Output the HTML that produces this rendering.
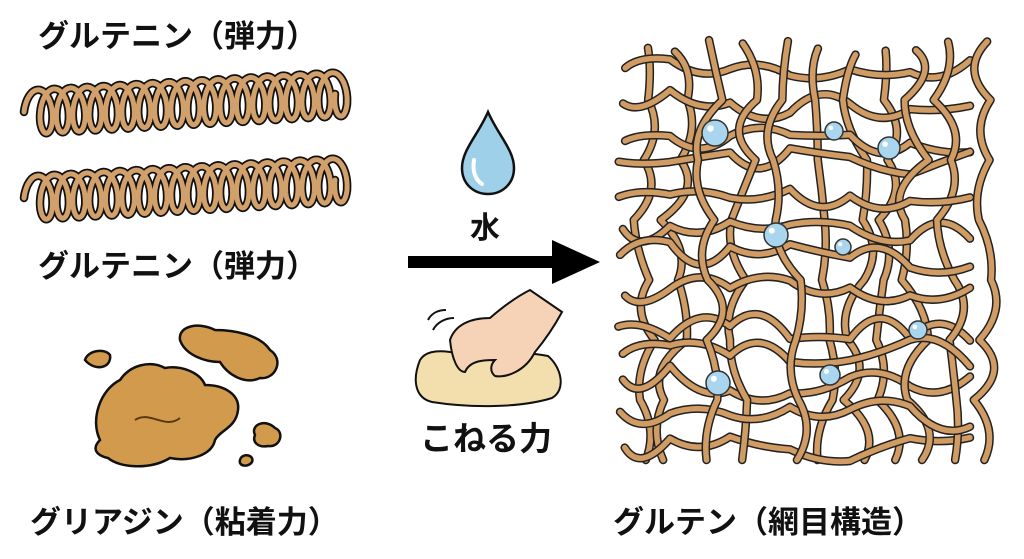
<!DOCTYPE html><html><head><meta charset="utf-8"><style>
body{margin:0;background:#fff;width:1024px;height:559px;overflow:hidden}
svg{display:block}
text{font-family:"Liberation Sans","Noto Sans CJK JP",sans-serif;font-weight:bold;fill:#111}
</style></head><body>
<svg id="s" width="1024" height="559" viewBox="0 0 1024 559">
<text x="38" y="47" font-size="31">グルテニン（弾力）</text>
<text x="38" y="277" font-size="31">グルテニン（弾力）</text>
<text x="30" y="533" font-size="31">グリアジン（粘着力）</text>
<text x="613" y="533" font-size="31">グルテン（網目構造）</text>
<text x="470" y="238" font-size="30">水</text>
<text x="420" y="450" font-size="33">こねる力</text>
<g id="springs"></g>
<path d="M488 112 C478 135 462 150 462 168 C462 184 474 194 488 194 C502 194 514 184 514 168 C514 150 498 135 488 112Z" fill="#9fd0ea" stroke="#111" stroke-width="2.5"/>
<path d="M474 160 C472 172 476 180 482 184" stroke="#fff" stroke-width="4" fill="none" stroke-linecap="round"/>
<rect x="408" y="256" width="150" height="12" fill="#000"/>
<path d="M552 240 L600 262 L552 284Z" fill="#000"/>
<path d="M420 360 C412 380 415 398 432 402 C470 408 520 408 552 398 C566 390 562 368 548 356 C520 350 480 355 450 352 C435 350 425 352 420 360Z" fill="#f3dfae" stroke="#111" stroke-width="2"/>
<path d="M450 340 C455 325 470 318 490 318 C505 305 520 295 530 290 L562 312 C555 325 545 340 535 352 C525 372 505 378 495 376 C490 372 490 365 495 360 C485 360 470 360 465 372 C458 372 452 360 450 340Z" fill="#f6d3b6" stroke="#111" stroke-width="2"/>
<path d="M428 320 C432 312 440 310 446 310 M433 330 C437 322 446 318 454 318" stroke="#111" stroke-width="2" fill="none"/>
<g fill="#d29a4c" stroke="#111" stroke-width="2.5">
<path d="M100 440 C90 420 100 390 120 380 C130 365 150 360 165 368 C180 365 200 372 205 385 C225 385 240 395 238 410 C236 428 220 430 215 440 C212 455 190 462 170 458 C150 470 120 468 108 458 C95 455 92 448 100 440Z"/>
<path d="M180 340 C178 325 200 322 215 330 C235 330 260 335 270 350 C285 360 275 380 260 378 C245 385 228 375 220 362 C205 362 185 355 180 340Z"/>
<path d="M85 360 C88 350 105 348 110 355 C112 368 95 372 85 360Z"/>
<path d="M255 435 C250 425 265 418 275 428 C285 432 280 448 268 446 C258 448 252 442 255 435Z"/>
<path d="M240 460 C242 452 255 455 252 462 C248 468 238 466 240 460Z"/>
</g>
<path d="M135 420 C150 410 165 430 180 418" stroke="#5a3810" stroke-width="2" fill="none"/>
<g id="net"></g>
<g id="bub" fill="#a9d6ee" stroke="#333" stroke-width="1.5"></g>
</svg>
<script>
var NS="http://www.w3.org/2000/svg";
function p(parent,d,c,w){var e=document.createElementNS(NS,"path");e.setAttribute("d",d);e.setAttribute("fill","none");e.setAttribute("stroke",c);e.setAttribute("stroke-width",w);e.setAttribute("stroke-linecap","round");e.setAttribute("stroke-linejoin","round");parent.appendChild(e);}
function spring(x0,y0,x1,y1){var d="";var n=19,N=n*40;for(var i=0;i<=N;i++){var t=i/N,a=t*n*2*Math.PI+Math.PI;var x=x0+(x1-x0)*t+10*Math.cos(a),y=y0+(y1-y0)*t+22*Math.sin(a);d+=(i?"L":"M")+x.toFixed(1)+" "+y.toFixed(1);}var g=document.getElementById("springs");p(g,d,"#111",8.5);p(g,d,"#d2a06a",5);}
spring(34,112,345,94);spring(34,198,345,180);
var seed=7;function r(){seed=(seed*16807)%2147483647;return seed/2147483647;}
var net=document.getElementById("net"),lines=[];
for(var k=0;k<13;k++){var y=68+k*31+r()*12,d="M"+(616+r()*10)+" "+y;for(var x=670;x<=1010;x+=60)d+=" Q"+(x-30)+" "+(y+(r()-.5)*60)+" "+x+" "+(y+(r()-.5)*30);lines.push(d);}
for(var k=0;k<11;k++){var x=640+k*34+r()*12,d="M"+x+" "+(40+r()*15);for(var y=100;y<=475;y+=60)d+=" Q"+(x+(r()-.5)*60)+" "+(y-30)+" "+(x+(r()-.5)*30)+" "+y;lines.push(d);}
lines.sort(function(){return r()-.5});
lines.forEach(function(d){p(net,d,"#222",8.5);p(net,d,"#d19c63",5.5);});
var b=document.getElementById("bub");
[[715,133,13],[834,131,9],[889,148,11],[776,235,12],[843,247,8],[918,330,9],[718,383,12],[830,375,10]].forEach(function(c){var e=document.createElementNS(NS,"circle");e.setAttribute("cx",c[0]);e.setAttribute("cy",c[1]);e.setAttribute("r",c[2]);b.appendChild(e);var h=document.createElementNS(NS,"circle");h.setAttribute("cx",c[0]-c[2]*.35);h.setAttribute("cy",c[1]-c[2]*.35);h.setAttribute("r",c[2]*.25);h.setAttribute("fill","#fff");h.setAttribute("stroke","none");b.appendChild(h);});
</script>
</body></html>
